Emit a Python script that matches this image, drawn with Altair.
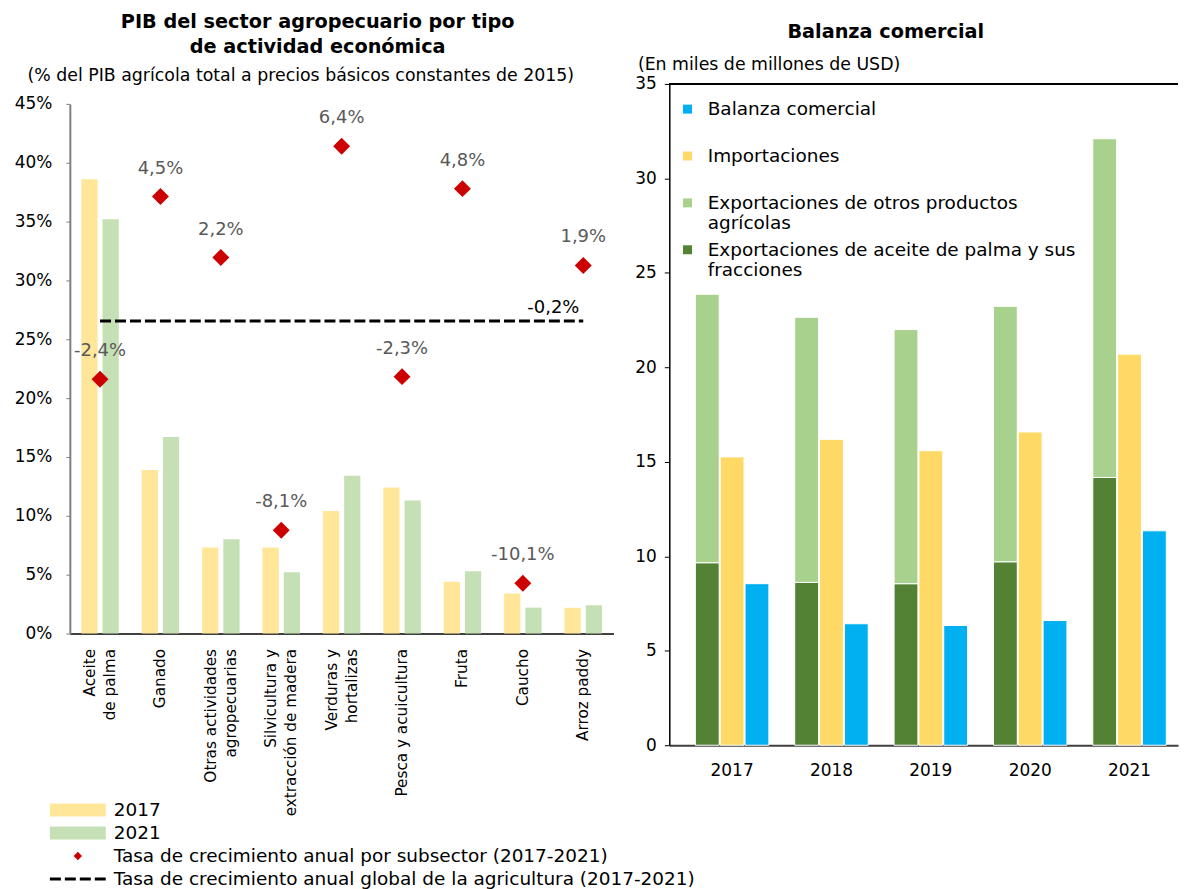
import json
import altair as alt
import pandas as pd

# ---------------- Left chart data ----------------
categorias = [
    "Aceite\nde palma", "Ganado", "Otras actividades\nagropecuarias",
    "Silvicultura y\nextracción de madera", "Verduras y\nhortalizas",
    "Pesca y acuicultura", "Fruta", "Caucho", "Arroz paddy",
]
pib_2017 = [38.6, 13.9, 7.3, 7.3, 10.4, 12.4, 4.4, 3.4, 2.2]
pib_2021 = [35.2, 16.7, 8.0, 5.2, 13.4, 11.3, 5.3, 2.2, 2.4]
tasa_subsector = [-2.4, 4.5, 2.2, -8.1, 6.4, -2.3, 4.8, -10.1, 1.9]
tasa_global = -0.2

S2017 = "2017"
S2021 = "2021"
STASA = "Tasa de crecimiento anual por subsector (2017-2021)"
SGLOBAL = "Tasa de crecimiento anual global de la agricultura (2017-2021)"
series_izq = [S2017, S2021, STASA, SGLOBAL]
colores_izq = ["#FFE699", "#C5E0B4", "#CC0000", "#000000"]

titulo_izq = ["PIB del sector agropecuario por tipo", "de actividad económica"]
subtitulo_izq = "(% del PIB agrícola total a precios básicos constantes de 2015)"

# ---------------- Right chart data ----------------
anios = ["2017", "2018", "2019", "2020", "2021"]
exp_palma = [9.66, 8.62, 8.55, 9.71, 14.17]
exp_otros = [14.21, 14.03, 13.45, 13.52, 17.93]
importaciones = [15.26, 16.19, 15.59, 16.58, 20.70]
balanza = [8.55, 6.43, 6.34, 6.60, 11.35]

SBAL = "Balanza comercial"
SIMP = "Importaciones"
SOTR = "Exportaciones de otros productos agrícolas"
SPAL = "Exportaciones de aceite de palma y sus fracciones"
series_der = [SBAL, SIMP, SOTR, SPAL]
colores_der = ["#00B0F0", "#FFD966", "#A9D18E", "#548235"]
lineas_leyenda_der = {
    SBAL: ["Balanza comercial", ""],
    SIMP: ["Importaciones", ""],
    SOTR: ["Exportaciones de otros productos", "agrícolas"],
    SPAL: ["Exportaciones de aceite de palma y sus", "fracciones"],
}
titulo_der = "Balanza comercial"
subtitulo_der = "(En miles de millones de USD)"

FONT = "DejaVu Sans"

# ---------------- Left chart ----------------
df_barras = pd.DataFrame(
    [{"cat": c, "serie": S2017, "valor": v} for c, v in zip(categorias, pib_2017)]
    + [{"cat": c, "serie": S2021, "valor": v} for c, v in zip(categorias, pib_2021)]
)
df_tasas = pd.DataFrame({"cat": categorias, "tasa": tasa_subsector, "serie": STASA})
df_global = pd.DataFrame(
    [{"x_ini": categorias[0], "x_fin": categorias[-1], "tasa": tasa_global}]
)

H_LEFT = 551
y_range = [H_LEFT, 20]

x_scale_izq = alt.Scale(domain=categorias, paddingInner=0.38, paddingOuter=0.19)
x_axis_izq = alt.Axis(
    title=None, labelAngle=-90,
    labelExpr="split(datum.label, '\\n')",
    labelOffset={"condition": {"test": "indexof(datum.value, '\\n') >= 0", "value": -10}, "value": 0},
    labelLineHeight=20, ticks=False, domainColor="#404040", domainWidth=2,
    labelFontSize=15.3, labelPadding=15, labelColor="black", labelLimit=400,
)

rect_path = "M-2.8,-0.65H2.8V0.65H-2.8Z"
diam_path = "M0,-0.42L0.42,0L0,0.42L-0.42,0Z"
dash_path = ("M-2.8,-0.15H-1.7V0.15H-2.8Z M-1.3,-0.15H-0.2V0.15H-1.3Z "
             "M0.2,-0.15H1.3V0.15H0.2Z M1.7,-0.15H2.8V0.15H1.7Z")

leyenda_izq = alt.Legend(
    title=None, orient="none", legendX=-2, legendY=718, symbolSize=400,
    labelFontSize=18.5, labelOffset=26, rowPadding=3, labelLimit=1000,
    symbolStrokeWidth=0, labelColor="black", padding=0,
)
color_izq = alt.Color("serie:N", scale=alt.Scale(domain=series_izq, range=colores_izq),
                      legend=leyenda_izq)

barras = alt.Chart(df_barras).mark_bar().encode(
    x=alt.X("cat:N", scale=x_scale_izq, axis=x_axis_izq),
    xOffset=alt.XOffset("serie:N", scale=alt.Scale(domain=[S2017, S2021], paddingInner=0.235)),
    y=alt.Y("valor:Q", scale=alt.Scale(domain=[0, 45], range=y_range),
            axis=alt.Axis(values=list(range(0, 50, 5)), labelExpr="datum.value + '%'",
                          title=subtitulo_izq, titleAngle=0, titleAlign="left",
                          titleBaseline="middle", titleX=-43, titleY=-8,
                          titleFontSize=17.4, titleFontWeight="normal", titleColor="black",
                          labelFontSize=17, labelColor="black", labelPadding=14,
                          tickSize=4, tickColor="#808080", domainColor="#808080",
                          domainWidth=2, grid=False)),
    color=color_izq,
)

y_sec = alt.Scale(domain=[-12, 8], range=y_range)

puntos = alt.Chart(df_tasas).mark_point(filled=True, opacity=1, size=1636, strokeWidth=0).encode(
    x=alt.X("cat:N", scale=x_scale_izq, axis=x_axis_izq),
    y=alt.Y("tasa:Q", scale=y_sec, axis=None),
    color=color_izq,
    shape=alt.Shape("serie:N", scale=alt.Scale(domain=series_izq,
                                               range=[rect_path, rect_path, diam_path, dash_path]),
                    legend=leyenda_izq),
)

etiquetas = alt.Chart(df_tasas).transform_calculate(
    etiqueta="(datum.tasa < 0 ? '-' : '') + replace(format(abs(datum.tasa), '.1f'), '.', ',') + '%'"
).mark_text(dy=-28, fontSize=18, color="#595959", font=FONT).encode(
    x=alt.X("cat:N", scale=x_scale_izq, axis=x_axis_izq),
    y=alt.Y("tasa:Q", scale=y_sec, axis=None),
    text="etiqueta:N",
)

linea_global = alt.Chart(df_global).mark_rule(color="black", strokeWidth=3, strokeDash=[11, 4]).encode(
    x=alt.X("x_ini:N", scale=x_scale_izq, axis=x_axis_izq),
    x2="x_fin:N",
    y=alt.Y("tasa:Q", scale=y_sec, axis=None),
)

etiqueta_global = alt.Chart(df_global).transform_calculate(
    etiqueta="(datum.tasa < 0 ? '-' : '') + replace(format(abs(datum.tasa), '.1f'), '.', ',') + '%'"
).mark_text(dx=-30, dy=-13, fontSize=18, color="black", font=FONT).encode(
    x=alt.X("x_fin:N", scale=x_scale_izq, axis=x_axis_izq),
    y=alt.Y("tasa:Q", scale=y_sec, axis=None),
    text="etiqueta:N",
)

izq = alt.layer(
    barras, alt.layer(puntos, etiquetas, linea_global, etiqueta_global)
).resolve_scale(y="independent").properties(
    width=545, height=H_LEFT,
    title=alt.TitleParams(text=titulo_izq, fontSize=19.3, fontWeight="bold", lineHeight=25,
                          anchor="middle", dx=-24, offset=10, color="black", font=FONT),
)

# ---------------- Right chart ----------------
filas = []
for i, a in enumerate(anios):
    filas.append({"anio": a, "grupo": "Exportaciones", "serie": SPAL, "valor": exp_palma[i], "orden": 0})
    filas.append({"anio": a, "grupo": "Exportaciones", "serie": SOTR, "valor": exp_otros[i], "orden": 1})
    filas.append({"anio": a, "grupo": "Importaciones", "serie": SIMP, "valor": importaciones[i], "orden": 0})
    filas.append({"anio": a, "grupo": "Balanza", "serie": SBAL, "valor": balanza[i], "orden": 0})
df_der = pd.DataFrame(filas)

label_expr_der = "datum.label"
for k, v in lineas_leyenda_der.items():
    label_expr_der = f"datum.label == {json.dumps(k)} ? {json.dumps(v, ensure_ascii=False)} : ({label_expr_der})"

barras_der = alt.Chart(df_der).mark_bar(stroke="white", strokeWidth=1).encode(
    x=alt.X("anio:N", scale=alt.Scale(paddingInner=0.26, paddingOuter=0.19, align=0.69),
            axis=alt.Axis(title=None, labelAngle=0, ticks=False, domainColor="#404040",
                          domainWidth=2, labelFontSize=17, labelPadding=17, labelColor="black")),
    xOffset=alt.XOffset("grupo:N", scale=alt.Scale(domain=["Exportaciones", "Importaciones", "Balanza"],
                                                  paddingInner=0.04)),
    y=alt.Y("valor:Q", stack="zero", scale=alt.Scale(domain=[0, 35]),
            axis=alt.Axis(values=list(range(0, 40, 5)), title=subtitulo_der, titleAngle=0,
                          titleAlign="left", titleBaseline="middle", titleX=-32, titleY=-19,
                          titleFontSize=17.4, titleFontWeight="normal", titleColor="black",
                          labelFontSize=17, labelColor="black", labelPadding=8, tickSize=5,
                          tickColor="black", domainColor="black", domainWidth=1.5, grid=False)),
    color=alt.Color("serie:N", scale=alt.Scale(domain=series_der, range=colores_der),
                    legend=alt.Legend(title=None, orient="none", legendX=9, legendY=16,
                                      symbolType="square", symbolSize=81, labelFontSize=18.5,
                                      labelOffset=11, rowPadding=7, labelLimit=1000,
                                      labelExpr=label_expr_der, symbolStrokeWidth=0,
                                      labelColor="black", padding=0)),
    order=alt.Order("orden:Q"),
)

borde_sup = alt.Chart(df_der).mark_rule(color="black", strokeWidth=1.5).encode(
    y=alt.datum(35)
)

der = alt.layer(barras_der, borde_sup).properties(
    width=510, height=663,
    title=alt.TitleParams(text=titulo_der, fontSize=19.3, fontWeight="bold",
                          anchor="middle", dx=-38, offset=14, color="black", font=FONT),
)

chart = alt.hconcat(izq, der, spacing=56, bounds="flush").resolve_scale(
    color="independent", shape="independent", xOffset="independent"
).properties(
    padding={"left": 6, "top": 3, "right": 0, "bottom": 0}
).configure(font=FONT).configure_view(stroke=None)

chart.save("out.html", embed_options={"renderer": "svg", "actions": False})
